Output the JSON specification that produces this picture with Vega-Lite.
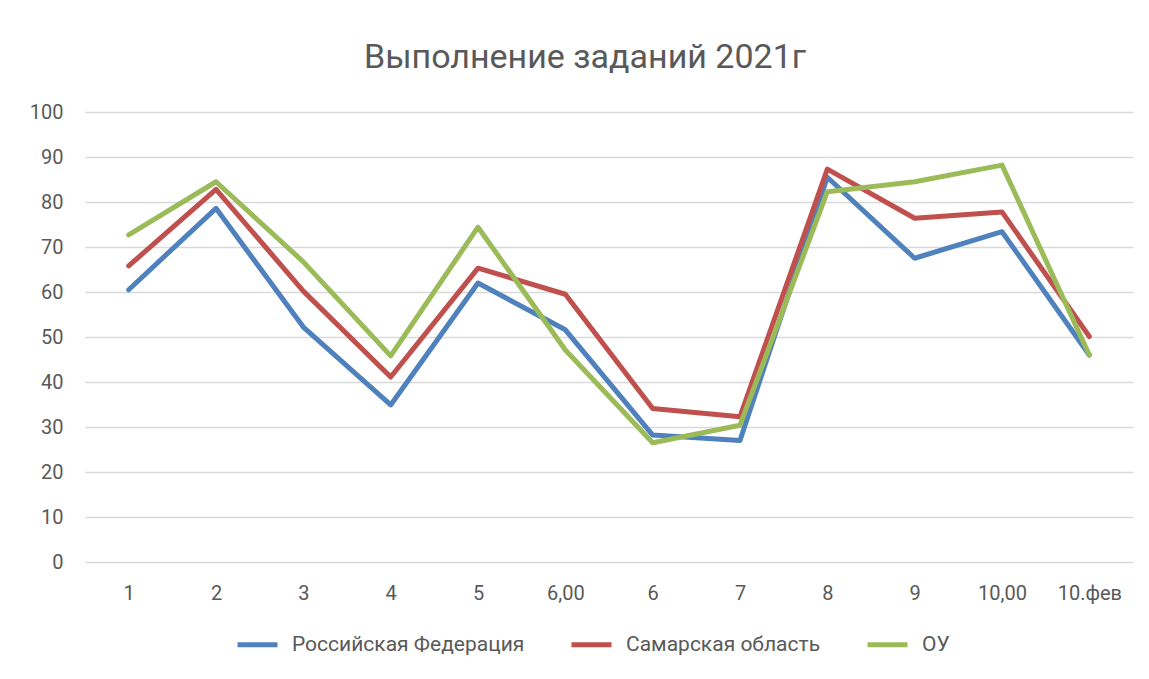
{
  "$schema": "https://vega.github.io/schema/vega-lite/v6.json",
  "autosize": {"type": "none"},
  "width": 1048,
  "height": 450,
  "padding": {"left": 85, "top": 112, "right": 16, "bottom": 117},
  "background": "white",
  "title": {
    "text": "Выполнение заданий 2021г",
    "anchor": "middle",
    "frame": "group",
    "dx": -24,
    "offset": 27,
    "fontSize": 34,
    "font": "Roboto",
    "fontWeight": "normal",
    "color": "#595959"
  },
  "data": {
    "values": [
      {"q": "1", "series": "Российская Федерация", "value": 60.5},
      {"q": "2", "series": "Российская Федерация", "value": 78.6},
      {"q": "3", "series": "Российская Федерация", "value": 52.2},
      {"q": "4", "series": "Российская Федерация", "value": 34.9},
      {"q": "5", "series": "Российская Федерация", "value": 62.0},
      {"q": "6,00", "series": "Российская Федерация", "value": 51.6},
      {"q": "6", "series": "Российская Федерация", "value": 28.2},
      {"q": "7", "series": "Российская Федерация", "value": 27.0},
      {"q": "8", "series": "Российская Федерация", "value": 85.5},
      {"q": "9", "series": "Российская Федерация", "value": 67.5},
      {"q": "10,00", "series": "Российская Федерация", "value": 73.4},
      {"q": "10.фев", "series": "Российская Федерация", "value": 46.0},
      {"q": "1", "series": "Самарская область", "value": 65.8},
      {"q": "2", "series": "Самарская область", "value": 82.8},
      {"q": "3", "series": "Самарская область", "value": 60.2},
      {"q": "4", "series": "Самарская область", "value": 41.1},
      {"q": "5", "series": "Самарская область", "value": 65.3},
      {"q": "6,00", "series": "Самарская область", "value": 59.5},
      {"q": "6", "series": "Самарская область", "value": 34.1},
      {"q": "7", "series": "Самарская область", "value": 32.3},
      {"q": "8", "series": "Самарская область", "value": 87.3},
      {"q": "9", "series": "Самарская область", "value": 76.4},
      {"q": "10,00", "series": "Самарская область", "value": 77.8},
      {"q": "10.фев", "series": "Самарская область", "value": 50.1},
      {"q": "1", "series": "ОУ", "value": 72.7},
      {"q": "2", "series": "ОУ", "value": 84.5},
      {"q": "3", "series": "ОУ", "value": 66.7},
      {"q": "4", "series": "ОУ", "value": 45.8},
      {"q": "5", "series": "ОУ", "value": 74.4},
      {"q": "6,00", "series": "ОУ", "value": 47.1},
      {"q": "6", "series": "ОУ", "value": 26.5},
      {"q": "7", "series": "ОУ", "value": 30.4},
      {"q": "8", "series": "ОУ", "value": 82.3},
      {"q": "9", "series": "ОУ", "value": 84.5},
      {"q": "10,00", "series": "ОУ", "value": 88.2},
      {"q": "10.фев", "series": "ОУ", "value": 46.0}
    ]
  },
  "mark": {"type": "line", "strokeWidth": 5, "strokeCap": "round", "strokeJoin": "round"},
  "encoding": {
    "x": {
      "field": "q",
      "type": "ordinal",
      "sort": null,
      "scale": {"type": "point", "padding": 0.5},
      "axis": {
        "title": null,
        "labelAngle": 0,
        "ticks": false,
        "domain": false,
        "grid": false,
        "labelFont": "Roboto",
        "labelFontSize": 20,
        "labelColor": "#595959",
        "labelPadding": 21
      }
    },
    "y": {
      "field": "value",
      "type": "quantitative",
      "scale": {"domain": [0, 100], "nice": false, "zero": true},
      "axis": {
        "title": null,
        "values": [0, 10, 20, 30, 40, 50, 60, 70, 80, 90, 100],
        "ticks": false,
        "domain": false,
        "grid": true,
        "gridColor": "#D9D9D9",
        "gridWidth": 1.3,
        "labelFont": "Roboto",
        "labelFontSize": 20,
        "labelColor": "#595959",
        "labelPadding": 22
      }
    },
    "color": {
      "field": "series",
      "type": "nominal",
      "scale": {
        "domain": ["Российская Федерация", "Самарская область", "ОУ"],
        "range": ["#4F81BD", "#C0504D", "#9BBB59"]
      },
      "legend": {
        "title": null,
        "orient": "none",
        "direction": "horizontal",
        "legendX": 150,
        "legendY": 510,
        "symbolType": "stroke",
        "symbolSize": 1600,
        "symbolStrokeWidth": 5,
        "labelFont": "Roboto",
        "labelFontSize": 21,
        "labelColor": "#595959",
        "labelOffset": 12,
        "labelLimit": 500,
        "columnPadding": 36
      }
    }
  },
  "config": {
    "view": {"stroke": null}
  }
}
